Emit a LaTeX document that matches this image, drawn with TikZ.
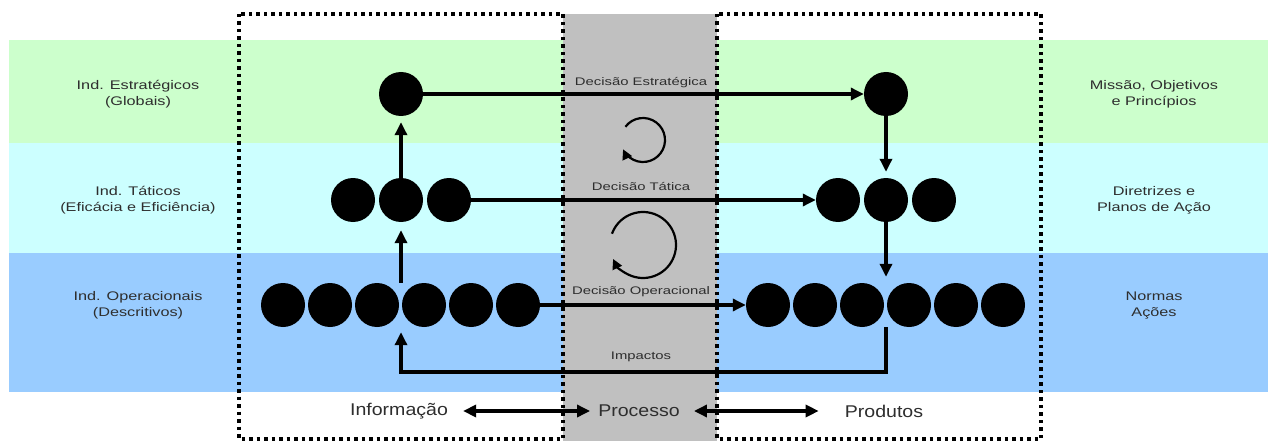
\documentclass[tikz,border=0pt]{standalone}
\usepackage{fontspec}
\setmainfont{Liberation Sans}
\usepackage{graphicx}
\usetikzlibrary{arrows.meta,calc}

\definecolor{bandgreen}{HTML}{CCFFCC}
\definecolor{bandcyan}{HTML}{CCFFFF}
\definecolor{bandblue}{HTML}{99CCFF}
\definecolor{procgray}{HTML}{C0C0C0}
\definecolor{textgray}{HTML}{2E2E2E}

% wide, slightly stretched label text (one or more centred lines)
\newcommand{\sidelabel}[1]{\scalebox{1.3}[1]{\fontsize{12.5}{16}\selectfont\begin{tabular}{@{}c@{}}#1\end{tabular}}}
\newcommand{\midlabel}[1]{\scalebox{1.35}[1]{\fontsize{11}{13}\selectfont #1}}
\newcommand{\biglabel}[1]{\scalebox{1.15}[1]{\fontsize{17}{20}\selectfont #1}}

\begin{document}
\begin{tikzpicture}[x=1pt, y=-1pt,
  dot/.style={circle, fill=black, minimum size=44pt, inner sep=0pt},
  flow/.style={line width=3.2pt, -{Triangle[length=13pt,width=12pt]}},
  dbl/.style={line width=3.2pt, {Triangle[length=13pt,width=12pt]}-{Triangle[length=13pt,width=12pt]}},
  cyc/.style={line width=2.2pt, -{Triangle[length=10pt,width=10pt]}},
  frame/.style={line width=3.2pt, dash pattern=on 3.5pt off 4pt},
  txt/.style={inner sep=0pt, text=textgray}]

\useasboundingbox (0,0) rectangle (1277,441);
\fill[white] (0,0) rectangle (1277,441);

% level bands
\fill[bandgreen] (9,40) rectangle (1268,143);
\fill[bandcyan] (9,143) rectangle (1268,253);
\fill[bandblue] (9,253) rectangle (1268,392);

% process column and the two dashed frames
\fill[procgray] (563,14) rectangle (717,441);
\draw[frame] (239,14) rectangle (563,439);
\draw[frame] (717,14) rectangle (1041,439);

% side labels
\node[txt] (lS) at (138,94) {\sidelabel{Ind. Estratégicos\\(Globais)}};
\node[txt] (lT) at (138,200) {\sidelabel{Ind. Táticos\\(Eficácia e Eficiência)}};
\node[txt] (lO) at (138,305) {\sidelabel{Ind. Operacionais\\(Descritivos)}};
\node[txt] (rS) at (1154,94) {\sidelabel{Missão, Objetivos\\e Princípios}};
\node[txt] (rT) at (1154,200) {\sidelabel{Diretrizes e\\Planos de Ação}};
\node[txt] (rO) at (1154,305) {\sidelabel{Normas\\Ações}};

% indicator dots (left) and product dots (right)
\node[dot] (sl) at (401,94) {};
\node[dot] (sr) at (886,94) {};
\node[dot] (t1) at (353,200) {};
\node[dot] (t2) at (401,200) {};
\node[dot] (t3) at (449,200) {};
\node[dot] (u1) at (838,200) {};
\node[dot] (u2) at (886,200) {};
\node[dot] (u3) at (934,200) {};
\foreach \i/\x in {1/283,2/330,3/377,4/424,5/471,6/518}
  \node[dot] (o\i) at (\x,305) {};
\foreach \i/\x in {1/768,2/815,3/862,4/909,5/956,6/1003}
  \node[dot] (p\i) at (\x,305) {};

% decision labels
\node[txt] (dE) at (641,83) {\midlabel{Decisão Estratégica}};
\node[txt] (dT) at (641,187) {\midlabel{Decisão Tática}};
\node[txt] (dO) at (641,292) {\midlabel{Decisão Operacional}};
\node[txt] (dI) at (641,357) {\midlabel{Impactos}};

% decisions
\draw[flow] (sl.east) -- (sr.west);
\draw[flow] (t3.east) -- (u1.west);
\draw[flow] (o6.east) -- (p1.west);

% aggregation upwards
\draw[flow, shorten >=6pt] (t2.north) -- (sl.south);
\draw[flow, shorten >=8pt] (t2 |- o3.north) -- (t2.south);

% deployment downwards
\draw[flow, shorten >=6pt] (sr.south) -- (u2.north);
\draw[flow, shorten >=6pt] (u2.south) -- (u2 |- p3.north);

% impacts feedback
\coordinate (imp) at (641,372);
\draw[flow, shorten >=5pt] (u2 |- p3.south) -- (u2 |- imp) -- (t2 |- imp) -- (t2 |- o3.south);

% decision cycles
\coordinate (c1) at (643,140);
\coordinate (c2) at (643,245);
\draw[cyc] ($(c1)+(-143:22)$) arc[start angle=-143, end angle=155, radius=22];
\draw[cyc] ($(c2)+(-160:33)$) arc[start angle=-160, end angle=155, radius=33];

% information - process - products
\node[txt] (inf) at (399,411) {\biglabel{Informação}};
\node[txt] (proc) at (639,411) {\biglabel{Processo}};
\node[txt] (prod) at (884,411) {\biglabel{Produtos}};
\draw[dbl, shorten <=15pt, shorten >=8pt] (inf.east) -- (proc.west);
\draw[dbl, shorten <=14pt, shorten >=26pt] (proc.east) -- (prod.west);
\end{tikzpicture}
\end{document}
